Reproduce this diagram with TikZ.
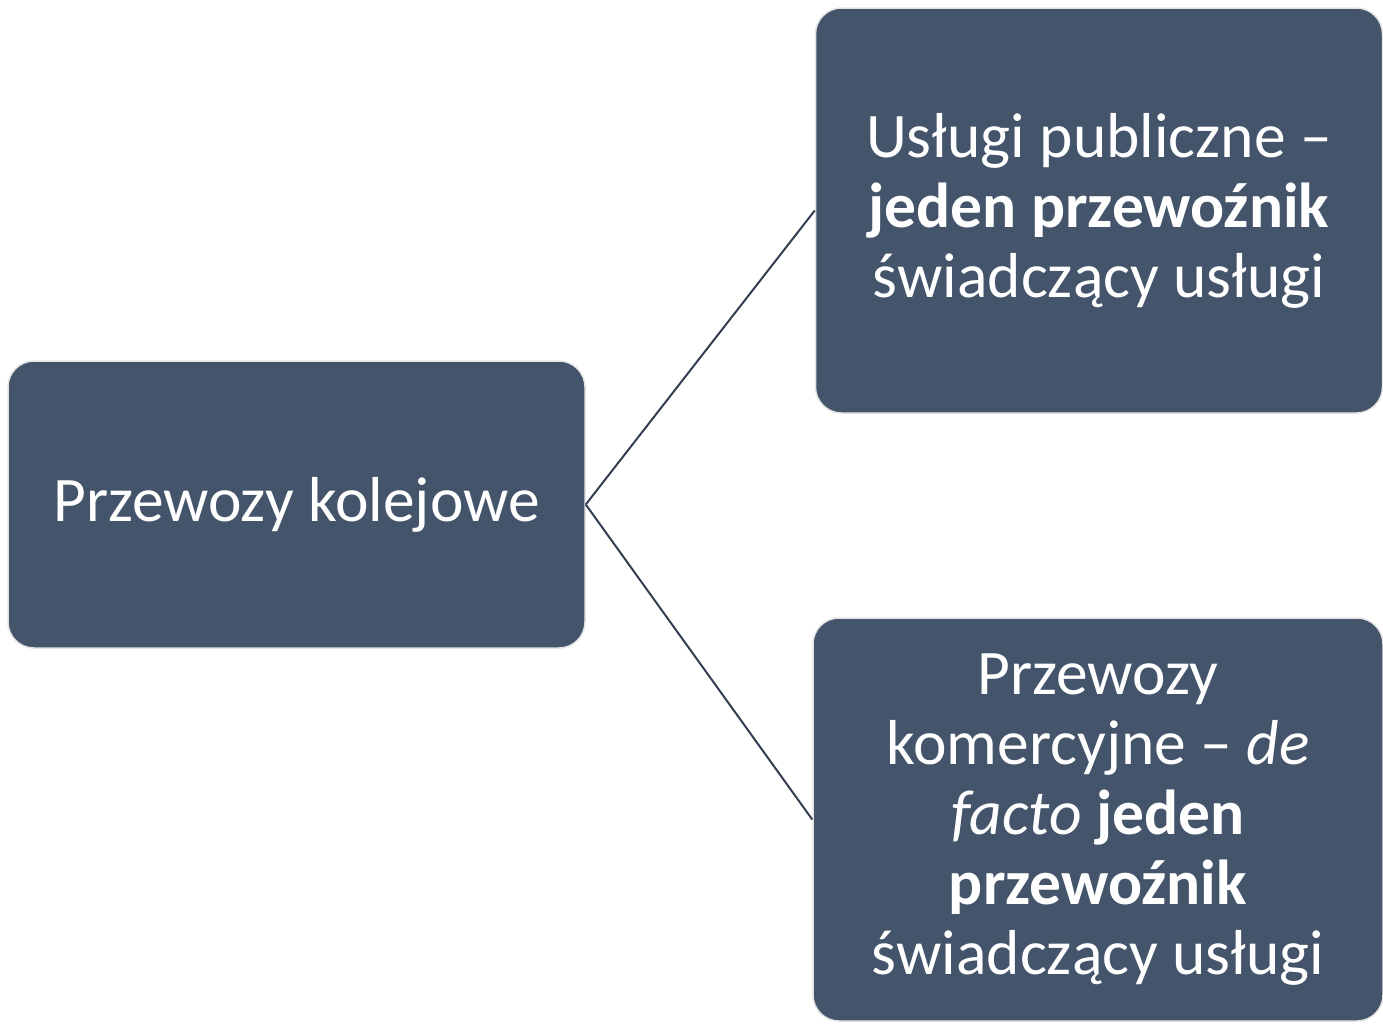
\documentclass[tikz,border=0pt]{standalone}
\usepackage{fontspec}
\setmainfont{Carlito}
\usetikzlibrary{positioning}
\definecolor{boxblue}{HTML}{44546A}
\definecolor{linkblue}{HTML}{333F50}

\begin{document}
\begin{tikzpicture}[x=1pt, y=-1pt,
		blok/.style={draw=gray!22, line width=1.5pt, fill=boxblue, rounded corners=26pt, text=white, align=center, inner sep=0pt, font=\fontsize{63.5}{70}\selectfont},
		link/.style={draw=linkblue, line width=2pt}]
		\useasboundingbox (0,0) rectangle (1383,1023);
		% boxes
		\node[blok, minimum width=577pt, minimum height=287pt] (kolej) at (296.5, 504.5) {Przewozy kolejowe};
		\node[blok, minimum width=567pt, minimum height=405pt] (publ) at (1099, 210.5)
			{Usługi publiczne –\\ \textbf{jeden przewoźnik}\\ świadczący usługi};
		\node[blok, minimum width=570pt, minimum height=403pt] (kom) at (1098, 819.5)
			{Przewozy\\ komercyjne – \textit{de}\\ \textit{facto} \textbf{jeden}\\ \textbf{przewoźnik}\\ świadczący usługi};
		% links
		\draw[link] (kolej.east) -- (publ.west);
		\draw[link] (kolej.east) -- (kom.west);
	\end{tikzpicture}
\end{document}
